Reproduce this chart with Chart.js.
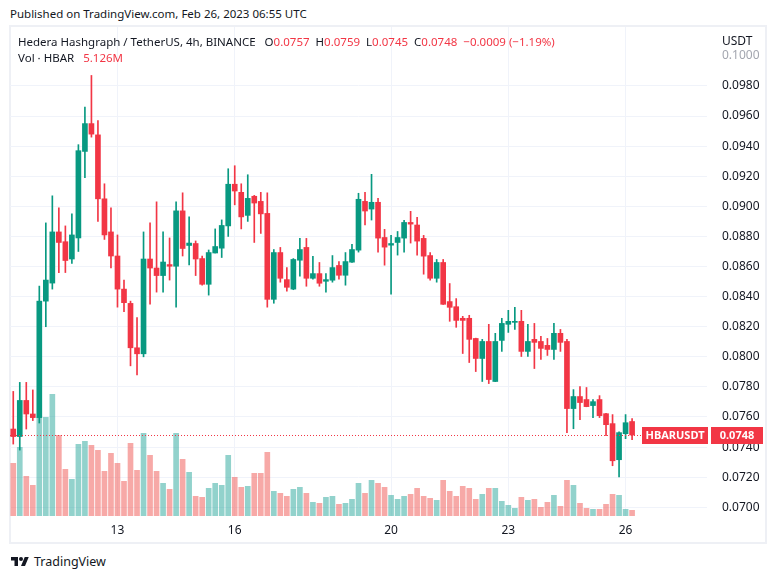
<!DOCTYPE html>
<html>
<head>
<meta charset="utf-8">
<script src="https://cdn.jsdelivr.net/npm/chart.js@4.4.0/dist/chart.umd.min.js"></script>
<style>
  body { margin: 0; background: #fff; width: 777px; height: 579px; overflow: hidden; position: relative;
         font-family: "Noto Sans", sans-serif; color: #131722; }
  #published { position: absolute; left: 10px; top: 6px; font-size: 11.5px; }
  #frame { position: absolute; left: 9px; top: 25px; width: 758px; height: 519px; box-sizing: border-box; border: 2px solid #eef0f5; }
  #wrap { position: absolute; left: 10px; top: 27px; width: 757px; height: 517px; }
  .legend { position: absolute; left: 18px; font-size: 11.5px; white-space: nowrap; }
  .red { color: #f23645; }
  .gap { margin-left: 6px; }
  #usdt { position: absolute; left: 722px; top: 32px; font-size: 12px; }
  #footer { position: absolute; left: 10px; top: 553px; font-size: 12.5px; display: flex; align-items: center; }
  #footer svg { margin-right: 4px; }
</style>
</head>
<body>
<div id="published">Published on TradingView.com, Feb 26, 2023 06:55 UTC</div>
<div id="frame"></div>
<div id="wrap"><canvas id="chart" width="757" height="517"></canvas></div>
<div class="legend" style="top:34px">Hedera Hashgraph / TetherUS, 4h, BINANCE <span class="gap">O</span><span class="red">0.0757</span><span class="gap">H</span><span class="red">0.0759</span><span class="gap">L</span><span class="red">0.0745</span><span class="gap">C</span><span class="red">0.0748</span><span class="red gap">−0.0009 (−1.19%)</span></div>
<div class="legend" style="top:50px">Vol · HBAR <span class="red gap">5.126M</span></div>
<div id="usdt">USDT</div>
<div id="footer">
  <svg width="20" height="14" viewBox="0 0 36 28"><path fill="#131722" d="M14 22H7V11H0V4h14v18zM28 22h-8l7.5-18h8L28 22z"/><circle fill="#131722" cx="20" cy="8" r="4"/></svg>
  <span>TradingView</span>
</div>
<script>
// 4h candles, Feb 10 08:00 -> Feb 26 04:00
const opens = [
  0.0752, 0.0747, 0.0771, 0.0762, 0.07596, 0.0837, 0.0849, 0.0883, 0.08765, 0.0865,
  0.0879, 0.09365, 0.0955, 0.09475, 0.0905, 0.0883, 0.0867, 0.0845, 0.08355, 0.0806,
  0.0802, 0.0865, 0.0859, 0.0854, 0.08613, 0.08602, 0.0897, 0.0874, 0.08753, 0.08653,
  0.08482, 0.0869, 0.08722, 0.0887, 0.09147, 0.09093, 0.0894, 0.09067, 0.09033, 0.08953,
  0.08382, 0.08693, 0.08513, 0.0845, 0.08642, 0.08727, 0.08522, 0.08553, 0.08502, 0.08509,
  0.08607, 0.08542, 0.08629, 0.08709, 0.09033, 0.08982, 0.09027, 0.08793, 0.08742, 0.0876,
  0.08789, 0.08893, 0.08876, 0.08787, 0.08673, 0.08522, 0.08627, 0.08367, 0.08333, 0.08256,
  0.08256, 0.08122, 0.07989, 0.08102, 0.07836, 0.08109, 0.08216, 0.08229, 0.08236, 0.08036,
  0.08116, 0.08102, 0.08076, 0.08049, 0.08156, 0.08102, 0.07656, 0.07736, 0.07716, 0.07676,
  0.07716, 0.07622, 0.07556, 0.07316, 0.07489, 0.0757
];
const highs = [
  0.0777, 0.0783, 0.0783, 0.0778, 0.0847, 0.0889, 0.0907, 0.0899, 0.0887, 0.0895,
  0.0941, 0.0966, 0.0987, 0.0957, 0.0915, 0.0899, 0.0881, 0.0851, 0.0837, 0.0826,
  0.0883, 0.0889, 0.0903, 0.0883, 0.0879, 0.0903, 0.0909, 0.0893, 0.0877, 0.0867,
  0.0871, 0.0885, 0.0891, 0.0925, 0.0927, 0.0915, 0.0921, 0.09073, 0.09093, 0.0909,
  0.08713, 0.08727, 0.08593, 0.08653, 0.08787, 0.08787, 0.08667, 0.08627, 0.08553, 0.08673,
  0.08633, 0.08693, 0.08747, 0.09087, 0.09093, 0.09213, 0.09053, 0.08847, 0.08807, 0.08833,
  0.08907, 0.08967, 0.08927, 0.08807, 0.08693, 0.08647, 0.08647, 0.08487, 0.08387, 0.08269,
  0.08276, 0.08124, 0.08116, 0.08216, 0.08156, 0.08256, 0.08309, 0.08329, 0.08309, 0.08216,
  0.08222, 0.08136, 0.08122, 0.08222, 0.08182, 0.08116, 0.07782, 0.07802, 0.07796, 0.07716,
  0.07742, 0.07624, 0.07616, 0.07502, 0.07616, 0.0759
];
const lows = [
  0.0742, 0.0738, 0.0752, 0.07576, 0.0756, 0.082, 0.0845, 0.0856, 0.0856, 0.0862,
  0.087, 0.0919, 0.0946, 0.089, 0.0878, 0.0859, 0.0833, 0.083, 0.0794, 0.0788,
  0.08, 0.0835, 0.0843, 0.0843, 0.0851, 0.0833, 0.0867, 0.0861, 0.0854, 0.08476,
  0.0841, 0.0869, 0.0866, 0.088, 0.0901, 0.0885, 0.089, 0.0876, 0.0882, 0.0833,
  0.08356, 0.08496, 0.08436, 0.08446, 0.08536, 0.08469, 0.08516, 0.08469, 0.08429, 0.08496,
  0.08516, 0.08476, 0.08628, 0.08696, 0.08876, 0.08909, 0.08696, 0.08609, 0.08416, 0.08676,
  0.08696, 0.08756, 0.08676, 0.08549, 0.08509, 0.08496, 0.08348, 0.08236, 0.08196, 0.08022,
  0.07962, 0.07902, 0.07836, 0.07822, 0.07835, 0.08036, 0.08162, 0.08182, 0.08002, 0.08002,
  0.07922, 0.07982, 0.08009, 0.07982, 0.08036, 0.07496, 0.07522, 0.07582, 0.07668, 0.07596,
  0.07596, 0.07476, 0.07276, 0.07202, 0.07456, 0.0745
];
const closes = [
  0.0747, 0.0771, 0.0762, 0.07596, 0.0837, 0.0851, 0.0883, 0.0876, 0.0864, 0.0881,
  0.0937, 0.0955, 0.0948, 0.0905, 0.0881, 0.0867, 0.0845, 0.0836, 0.0806, 0.0802,
  0.0865, 0.0859, 0.0854, 0.0863, 0.08602, 0.0897, 0.0872, 0.08756, 0.0865, 0.08482,
  0.08693, 0.08733, 0.08873, 0.09147, 0.09102, 0.0893, 0.09053, 0.09022, 0.0895, 0.08382,
  0.08693, 0.08522, 0.08462, 0.08647, 0.08713, 0.08522, 0.08553, 0.08489, 0.08513, 0.08593,
  0.08542, 0.08633, 0.08713, 0.09047, 0.08969, 0.09027, 0.08789, 0.08729, 0.08753, 0.08793,
  0.08893, 0.08882, 0.08769, 0.08669, 0.08522, 0.08627, 0.08349, 0.08329, 0.08242, 0.08242,
  0.08116, 0.07989, 0.08102, 0.07849, 0.08102, 0.08222, 0.08236, 0.08236, 0.08036, 0.08102,
  0.08096, 0.08056, 0.08049, 0.08156, 0.08096, 0.07656, 0.07736, 0.07696, 0.07669, 0.07702,
  0.07609, 0.07549, 0.07309, 0.07496, 0.07562, 0.0748
];
// volume, millions of HBAR
const volumes = [
  47.4, 61.8, 35.7, 27.6, 88.8, 88.8, 109.5, 72.6, 42.0, 33.0,
  64.5, 67.2, 63.6, 59.1, 40.2, 56.4, 47.4, 31.2, 65.4, 41.1,
  74.4, 54.6, 40.2, 29.4, 24.0, 74.4, 51.0, 39.3, 17.7, 16.8,
  24.9, 29.4, 27.6, 54.6, 34.8, 25.8, 26.7, 38.4, 38.4, 57.3,
  22.2, 20.4, 17.7, 24.0, 25.8, 20.4, 12.3, 11.4, 16.8, 17.7,
  10.5, 11.4, 15.0, 29.4, 20.4, 32.1, 29.4, 25.8, 18.6, 15.0,
  17.7, 19.5, 24.9, 17.7, 15.9, 14.1, 32.1, 22.2, 17.7, 26.7,
  24.9, 15.0, 19.5, 24.9, 24.9, 13.2, 9.6, 6.9, 16.8, 14.1,
  15.0, 7.8, 12.3, 18.6, 8.7, 32.1, 27.6, 11.4, 6.9, 6.0,
  6.0, 10.5, 19.5, 18.6, 6.0, 5.126
];
// day marks on the time axis (candle index -> label)
const dayIndex = [16, 34, 58, 76, 94];
const dayLabels = ['13', '16', '20', '23', '26'];
const priceTicks = [0.070, 0.072, 0.074, 0.076, 0.078, 0.080, 0.082, 0.084, 0.086,
                    0.088, 0.090, 0.092, 0.094, 0.096, 0.098, 0.100];
const lastPrice = 0.0748;
const emptySlots = 11; // right margin after last candle

const UP = '#089981', DOWN = '#f23645';
const VOL_UP = 'rgba(38,166,154,0.5)', VOL_DOWN = 'rgba(239,83,80,0.5)';

const labels = [];
for (let i = 0; i < opens.length + emptySlots; i++) {
    const k = dayIndex.indexOf(i);
    labels.push(k >= 0 ? dayLabels[k] : '');
}
const isUp = closes.map((c, i) => c >= opens[i]);

const priceLine = {
    id: 'priceLine',
    afterDatasetsDraw(chart) {
        const { ctx, chartArea, scales } = chart;
        const y = Math.round(scales.y.getPixelForValue(lastPrice)) + 0.5;
        ctx.save();
        ctx.strokeStyle = DOWN;
        ctx.lineWidth = 1;
        ctx.setLineDash([1, 2]);
        ctx.beginPath();
        ctx.moveTo(chartArea.left, y);
        ctx.lineTo(chartArea.right - 66, y);
        ctx.stroke();
        ctx.setLineDash([]);
        ctx.fillStyle = DOWN;
        ctx.fillRect(chartArea.right - 65, y - 8.5, 66, 17);
        ctx.fillRect(chartArea.right + 4, y - 8.5, 52, 17);
        ctx.fillStyle = '#fff';
        ctx.font = 'bold 11px "Noto Sans"';
        ctx.textBaseline = 'middle';
        ctx.textAlign = 'center';
        ctx.fillText('HBARUSDT', chartArea.right - 32, y + 0.5);
        ctx.fillText(lastPrice.toFixed(4), chartArea.right + 30, y + 0.5);
        ctx.restore();
    }
};

new Chart(document.getElementById('chart'), {
    type: 'bar',
    data: {
        labels: labels,
        datasets: [
            {
                label: 'Body',
                data: opens.map((o, i) => [o, closes[i]]),
                backgroundColor: isUp.map(u => u ? UP : DOWN),
                barThickness: 5,
                minBarLength: 1,
                grouped: false,
                yAxisID: 'y'
            },
            {
                label: 'Wick',
                data: lows.map((l, i) => [l, highs[i]]),
                backgroundColor: isUp.map(u => u ? UP : DOWN),
                barThickness: 1,
                grouped: false,
                yAxisID: 'y'
            },
            {
                label: 'Volume',
                data: volumes,
                backgroundColor: isUp.map(u => u ? VOL_UP : VOL_DOWN),
                barThickness: 5,
                grouped: false,
                yAxisID: 'yv'
            }
        ]
    },
    options: {
        responsive: false,
        animation: false,
        layout: { padding: 0, autoPadding: false },
        plugins: {
            legend: { display: false },
            tooltip: { enabled: false }
        },
        scales: {
            x: {
                offset: true,
                afterBuildTicks: axis => { axis.ticks = dayIndex.map(v => ({ value: v })); },
                afterFit: axis => { axis.height = 28; axis.paddingLeft = 0; axis.paddingRight = 0; },
                grid: { offset: false, color: '#f0f3fa', drawTicks: false },
                border: { display: false },
                ticks: { autoSkip: false, maxRotation: 0, padding: 7, color: '#131722',
                         font: { family: 'Noto Sans', size: 12 } }
            },
            y: {
                position: 'right',
                min: 0.06942,
                max: 0.10192,
                afterBuildTicks: axis => { axis.ticks = priceTicks.map(v => ({ value: v })); },
                afterFit: axis => { axis.width = 60; axis.paddingTop = 0; axis.paddingBottom = 0; },
                grid: {
                    drawTicks: false,
                    color: ctx => ctx.tick && ctx.tick.value > 0.0999 ? 'rgba(0,0,0,0)' : '#f0f3fa'
                },
                border: { display: false },
                ticks: {
                    padding: 15,
                    color: ctx => ctx.tick && ctx.tick.value > 0.0999 ? '#a3a6af' : '#131722',
                    font: { family: 'Noto Sans', size: 12 },
                    callback: v => v.toFixed(4)
                }
            },
            yv: {
                display: false,
                min: 0,
                max: 440
            }
        }
    },
    plugins: [priceLine]
});
</script>
</body>
</html>
